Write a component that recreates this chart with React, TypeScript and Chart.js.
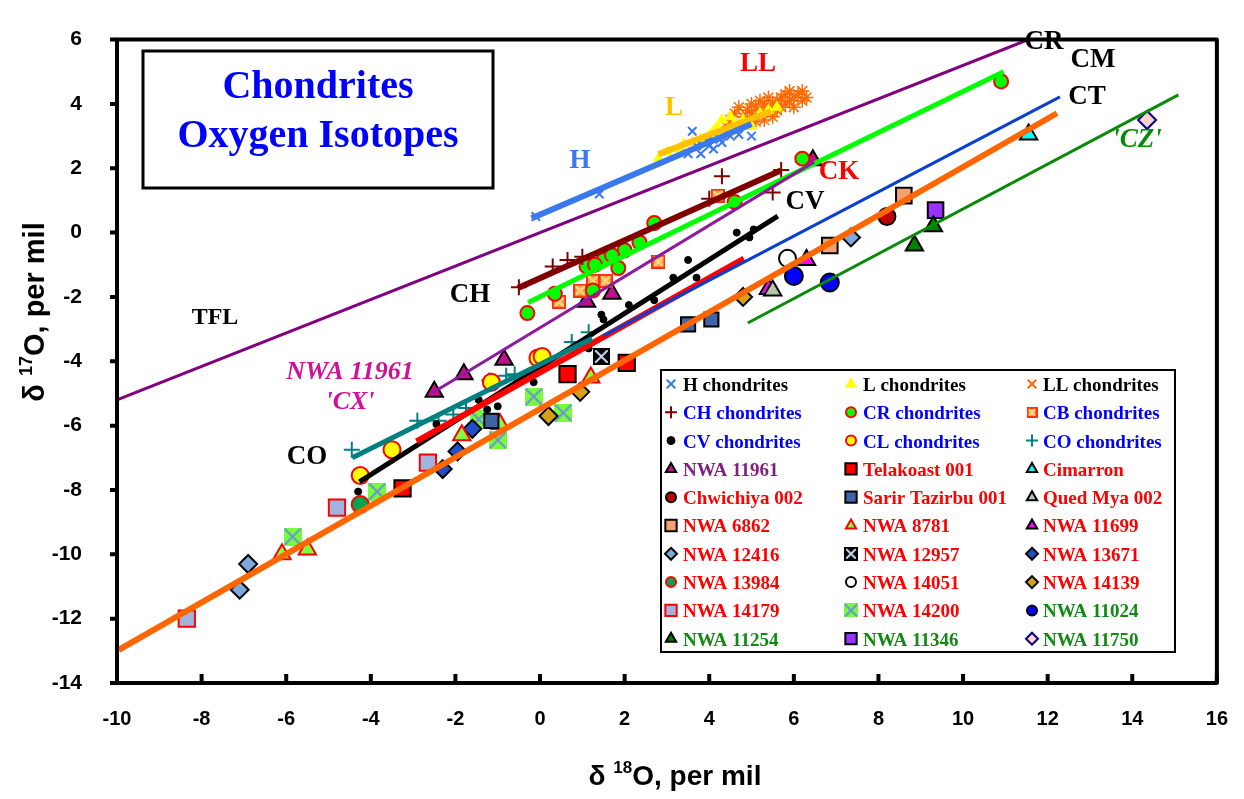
import React, { useEffect, useRef } from 'react';
import { Chart, registerables } from 'chart.js';

Chart.register(...registerables);

type P = [number, number];

const X_MIN = -10;
const X_MAX = 16;
const Y_MIN = -14;
const Y_MAX = 6;
const X_TICKS = [-10, -8, -6, -4, -2, 0, 2, 4, 6, 8, 10, 12, 14, 16];
const Y_TICKS = [-14, -12, -10, -8, -6, -4, -2, 0, 2, 4, 6];

// ---------- point series ----------
const H_CHONDRITES: P[] = [[-0.1, 0.5], [1.4, 1.2], [3.6, 3.15], [3.5, 2.45], [3.8, 2.45], [4.0, 2.7], [4.25, 2.9], [4.5, 3.0], [5.0, 3.0], [3.95, 2.85], [4.1, 2.6], [4.7, 3.05], [3.7, 2.7], [4.3, 2.8]];
const L_CHONDRITES: P[] = [[2.8, 2.3], [3.0, 2.5], [3.3, 2.6], [3.6, 2.8], [3.8, 2.9], [4.0, 3.0], [4.2, 3.3], [4.3, 3.5], [4.5, 3.6], [4.6, 3.4], [4.8, 3.5], [5.0, 3.3], [5.2, 3.7], [5.4, 3.8], [5.6, 3.9], [4.1, 3.15], [3.4, 2.75]];
const LL_CHONDRITES: P[] = [[4.5, 3.5], [4.6, 3.7], [4.7, 3.9], [4.8, 3.6], [4.9, 3.8], [5.0, 4.0], [5.0, 3.7], [5.1, 3.9], [5.2, 4.1], [5.2, 3.8], [5.3, 4.0], [5.4, 3.9], [5.4, 4.2], [5.5, 4.0], [5.5, 3.6], [5.6, 4.1], [5.6, 3.8], [5.7, 4.2], [5.7, 3.9], [5.8, 4.0], [5.8, 4.3], [5.9, 4.1], [5.9, 4.4], [6.0, 4.2], [6.0, 3.9], [6.1, 4.3], [6.2, 4.1], [6.2, 4.4], [5.3, 3.5], [5.1, 3.45], [6.3, 4.2], [4.4, 3.3]];
const CH_CHONDRITES: P[] = [[-0.5, -1.7], [0.3, -1.05], [0.65, -0.85], [1.0, -0.75], [4.0, 1.05], [4.3, 1.75], [5.5, 1.25], [5.7, 1.95]];
const CR_CHONDRITES: P[] = [[-0.3, -2.5], [0.35, -1.9], [1.1, -1.05], [1.5, -0.85], [1.85, -1.1], [2.0, -0.55], [2.35, -0.3], [2.7, 0.3], [4.6, 0.95], [1.25, -1.8], [6.2, 2.3], [10.9, 4.7], [1.3, -1.0], [1.7, -0.7]];
const CB_CHONDRITES: P[] = [[0.45, -2.15], [0.95, -1.8], [1.25, -1.5], [1.55, -1.5], [2.8, -0.9], [4.2, 1.15]];
const CV_CHONDRITES: P[] = [[-4.3, -8.05], [-2.45, -5.95], [-1.45, -5.2], [-1.25, -5.5], [-1.0, -5.4], [-0.15, -4.65], [1.15, -3.6], [1.45, -2.55], [1.5, -2.7], [2.1, -2.25], [2.7, -2.1], [3.15, -1.4], [3.5, -0.85], [3.7, -1.4], [4.65, 0.0], [5.05, 0.1], [4.95, -0.15]];
const CL_CHONDRITES: P[] = [[-4.25, -7.55], [-3.5, -6.75], [-1.15, -4.65], [-0.05, -3.9], [0.05, -3.85]];
const CO_CHONDRITES: P[] = [[-4.45, -6.75], [-2.9, -5.85], [-2.4, -5.85], [-2.05, -5.65], [-1.75, -5.45], [-1.2, -4.6], [-0.8, -4.45], [-0.6, -4.4], [0.75, -3.4], [1.15, -3.1]];
const NWA_11961: P[] = [[-2.5, -4.95], [-1.8, -4.4], [-0.85, -3.95], [1.1, -2.15], [1.7, -1.9], [6.45, 2.25]];
const TELAKOAST_001: P[] = [[-3.25, -7.95], [0.65, -4.4], [2.05, -4.05]];
const CIMARRON: P[] = [[11.55, 3.05]];
const CHWICHIYA_002: P[] = [[8.2, 0.5]];
const SARIR_TAZIRBU_001: P[] = [[3.5, -2.85], [4.05, -2.7], [-1.15, -5.85]];
const QUED_MYA_002: P[] = [[5.5, -1.8]];
const NWA_6862: P[] = [[8.6, 1.15], [6.85, -0.4]];
const NWA_8781: P[] = [[-6.1, -10.0], [-5.5, -9.85], [-1.85, -6.3], [-0.95, -5.95], [1.2, -4.5]];
const NWA_11699: P[] = [[5.4, -1.75], [6.3, -0.85]];
const NWA_12416: P[] = [[-6.9, -10.3], [-7.1, -11.1], [7.35, -0.15]];
const NWA_12957: P[] = [[1.45, -3.85]];
const NWA_13671: P[] = [[-2.3, -7.35], [-1.95, -6.8], [-1.6, -6.1]];
const NWA_13984: P[] = [[-4.25, -8.45]];
const NWA_14051: P[] = [[5.85, -0.8]];
const NWA_14139: P[] = [[0.2, -5.7], [0.95, -4.95], [4.8, -2.0]];
const NWA_14179: P[] = [[-8.35, -12.0], [-4.8, -8.55], [-2.65, -7.15]];
const NWA_14200: P[] = [[-5.85, -9.45], [-3.85, -8.05], [-1.45, -5.8], [-1.0, -6.45], [-0.15, -5.1], [0.55, -5.6]];
const NWA_11024: P[] = [[6.0, -1.35], [6.85, -1.55]];
const NWA_11254: P[] = [[8.85, -0.4], [9.3, 0.2]];
const NWA_11346: P[] = [[9.35, 0.7]];
const NWA_11750: P[] = [[14.35, 3.5]];

// ---------- lines (end points) ----------
const LINE_TFL: P[] = [[-10, -5.2], [11.5, 5.98]];
const LINE_H: P[] = [[-0.2, 0.45], [5.0, 3.38]];
const LINE_L: P[] = [[2.8, 2.44], [5.46, 3.77]];
const LINE_CH: P[] = [[-0.52, -1.72], [5.69, 1.93]];
const LINE_CR: P[] = [[-0.28, -2.17], [10.96, 5.0]];
const LINE_CV: P[] = [[-4.27, -7.75], [5.62, 0.51]];
const LINE_CK: P[] = [[-2.92, -6.49], [4.82, -0.81]];
const LINE_CO: P[] = [[-4.44, -7.0], [1.23, -3.29]];
const LINE_CM: P[] = [[1.5, -3.2], [12.29, 4.22]];
const LINE_CT: P[] = [[-9.96, -12.97], [12.22, 3.71]];
const LINE_CZ: P[] = [[4.91, -2.81], [15.09, 4.28]];
const LINE_CX: P[] = [[-2.54, -4.98], [6.48, 2.2]];

const SERIF = '"Liberation Serif", "Times New Roman", Times, serif';
const SANS = '"Liberation Sans", Arial, Helvetica, sans-serif';

const BLACK = '#000000';
const BLUE = '#0000ff';
const RED = '#ff0000';
const GREEN = '#118a11';
const PURPLE = '#7f1f7f';

type Mk = { style: string; r: number; lr: number; fill: string; stroke: string; lw: number; img?: string };

type Series = { name: string; data: P[]; mk: Mk; text: string };

const SERIES: Series[] = [
  { name: 'H chondrites', data: H_CHONDRITES, text: BLACK, mk: { style: 'crossRot', r: 6, lr: 6, fill: '#3a78f0', stroke: '#3a78f0', lw: 2 } },
  { name: 'L chondrites', data: L_CHONDRITES, text: BLACK, mk: { style: 'triangle', r: 7, lr: 7, fill: '#ffff00', stroke: '#ffff00', lw: 0 } },
  { name: 'LL chondrites', data: LL_CHONDRITES, text: BLACK, mk: { style: 'star', r: 7, lr: 6, fill: '#ff6a00', stroke: '#ff6a00', lw: 1.5 } },
  { name: 'CH chondrites', data: CH_CHONDRITES, text: BLUE, mk: { style: 'cross', r: 8, lr: 6, fill: '#800000', stroke: '#800000', lw: 2 } },
  { name: 'CR chondrites', data: CR_CHONDRITES, text: BLUE, mk: { style: 'circle', r: 7, lr: 5, fill: '#00ff00', stroke: '#ff0000', lw: 2 } },
  { name: 'CB chondrites', data: CB_CHONDRITES, text: BLUE, mk: { style: 'img', r: 7, lr: 6, fill: '', stroke: '', lw: 0, img: 'cb' } },
  { name: 'CV chondrites', data: CV_CHONDRITES, text: BLUE, mk: { style: 'circle', r: 3.5, lr: 4, fill: '#000000', stroke: '#000000', lw: 1 } },
  { name: 'CL chondrites', data: CL_CHONDRITES, text: BLUE, mk: { style: 'circle', r: 8.5, lr: 5, fill: '#ffff00', stroke: '#ff0000', lw: 2 } },
  { name: 'CO chondrites', data: CO_CHONDRITES, text: BLUE, mk: { style: 'cross', r: 8, lr: 6, fill: '#008080', stroke: '#008080', lw: 2 } },
  { name: 'NWA 11961', data: NWA_11961, text: PURPLE, mk: { style: 'triangle', r: 10, lr: 6, fill: '#c0108c', stroke: '#000000', lw: 2 } },
  { name: 'Telakoast 001', data: TELAKOAST_001, text: RED, mk: { style: 'rect', r: 11.5, lr: 8, fill: '#ff0000', stroke: '#000000', lw: 2 } },
  { name: 'Cimarron', data: CIMARRON, text: RED, mk: { style: 'triangle', r: 10, lr: 6, fill: '#00ffff', stroke: '#000000', lw: 2 } },
  { name: 'Chwichiya 002', data: CHWICHIYA_002, text: RED, mk: { style: 'circle', r: 8.5, lr: 5, fill: '#c00000', stroke: '#000000', lw: 2 } },
  { name: 'Sarir Tazirbu 001', data: SARIR_TAZIRBU_001, text: RED, mk: { style: 'rect', r: 10, lr: 8, fill: '#3d65a8', stroke: '#000000', lw: 2 } },
  { name: 'Qued Mya 002', data: QUED_MYA_002, text: RED, mk: { style: 'triangle', r: 10, lr: 6, fill: '#b8c4a8', stroke: '#000000', lw: 2 } },
  { name: 'NWA 6862', data: NWA_6862, text: RED, mk: { style: 'rect', r: 11, lr: 8, fill: '#f4a070', stroke: '#000000', lw: 2 } },
  { name: 'NWA 8781', data: NWA_8781, text: RED, mk: { style: 'triangle', r: 10, lr: 6, fill: '#80ff40', stroke: '#ff0000', lw: 2 } },
  { name: 'NWA 11699', data: NWA_11699, text: RED, mk: { style: 'triangle', r: 10, lr: 6, fill: '#ff00ff', stroke: '#000000', lw: 2 } },
  { name: 'NWA 12416', data: NWA_12416, text: RED, mk: { style: 'rectRot', r: 9, lr: 6, fill: '#7fa8dc', stroke: '#000000', lw: 2 } },
  { name: 'NWA 12957', data: NWA_12957, text: RED, mk: { style: 'img', r: 8, lr: 6, fill: '', stroke: '', lw: 0, img: 'b957' } },
  { name: 'NWA 13671', data: NWA_13671, text: RED, mk: { style: 'rectRot', r: 9, lr: 6, fill: '#1f4fc8', stroke: '#000000', lw: 2 } },
  { name: 'NWA 13984', data: NWA_13984, text: RED, mk: { style: 'circle', r: 8.5, lr: 5, fill: '#00a550', stroke: '#ff0000', lw: 2 } },
  { name: 'NWA 14051', data: NWA_14051, text: RED, mk: { style: 'circle', r: 8.5, lr: 5, fill: '#ffffff', stroke: '#000000', lw: 2 } },
  { name: 'NWA 14139', data: NWA_14139, text: RED, mk: { style: 'rectRot', r: 9, lr: 6, fill: '#d4a017', stroke: '#000000', lw: 2 } },
  { name: 'NWA 14179', data: NWA_14179, text: RED, mk: { style: 'rect', r: 11.5, lr: 8, fill: '#a3b3df', stroke: '#ff0000', lw: 2 } },
  { name: 'NWA 14200', data: NWA_14200, text: RED, mk: { style: 'img', r: 9, lr: 6, fill: '', stroke: '', lw: 0, img: 'g200' } },
  { name: 'NWA 11024', data: NWA_11024, text: GREEN, mk: { style: 'circle', r: 9, lr: 5, fill: '#0000ff', stroke: '#000000', lw: 2 } },
  { name: 'NWA 11254', data: NWA_11254, text: GREEN, mk: { style: 'triangle', r: 10, lr: 6, fill: '#008000', stroke: '#000000', lw: 2 } },
  { name: 'NWA 11346', data: NWA_11346, text: GREEN, mk: { style: 'rect', r: 11, lr: 8, fill: '#9933ff', stroke: '#000000', lw: 2 } },
  { name: 'NWA 11750', data: NWA_11750, text: GREEN, mk: { style: 'rectRot', r: 9, lr: 6, fill: '#ffd0d0', stroke: '#000080', lw: 2 } },
];

const LINES: { name: string; data: P[]; color: string; width: number }[] = [
  { name: 'TFL', data: LINE_TFL, color: '#800080', width: 3 },
  { name: 'CX', data: LINE_CX, color: '#8e1a9e', width: 3 },
  { name: 'CM', data: LINE_CM, color: '#0a3fd0', width: 3 },
  { name: 'CZ', data: LINE_CZ, color: '#0a8a0a', width: 3 },
  { name: 'CT', data: LINE_CT, color: '#ff6600', width: 6 },
  { name: 'CO', data: LINE_CO, color: '#008080', width: 5 },
  { name: 'CK', data: LINE_CK, color: '#ff0000', width: 6 },
  { name: 'CV', data: LINE_CV, color: '#000000', width: 5 },
  { name: 'CR', data: LINE_CR, color: '#00ff00', width: 5 },
  { name: 'CH', data: LINE_CH, color: '#800000', width: 6 },
  { name: 'H', data: LINE_H, color: '#3a78f0', width: 6 },
  { name: 'L', data: LINE_L, color: '#ffc000', width: 6 },
];

// text annotations (canvas pixel positions)
const LABELS = [
  { t: 'TFL', x: 215, y: 318, c: BLACK, s: 24, i: false },
  { t: 'H', x: 580, y: 161, c: '#3a78f0', s: 27, i: false },
  { t: 'L', x: 674, y: 108, c: '#ffc000', s: 27, i: false },
  { t: 'LL', x: 758, y: 64, c: RED, s: 27, i: false },
  { t: 'CR', x: 1044, y: 42, c: BLACK, s: 27, i: false },
  { t: 'CM', x: 1093, y: 60, c: BLACK, s: 27, i: false },
  { t: 'CT', x: 1087, y: 97, c: BLACK, s: 27, i: false },
  { t: "'CZ'", x: 1137, y: 140, c: '#0a8a0a', s: 27, i: true },
  { t: 'CK', x: 839, y: 172, c: RED, s: 27, i: false },
  { t: 'CV', x: 805, y: 202, c: BLACK, s: 27, i: false },
  { t: 'CH', x: 470, y: 295, c: BLACK, s: 27, i: false },
  { t: 'NWA 11961', x: 350, y: 372, c: '#d0109a', s: 26, i: true },
  { t: "'CX'", x: 350, y: 402, c: '#d0109a', s: 26, i: true },
  { t: 'CO', x: 307, y: 457, c: BLACK, s: 27, i: false },
];

function xSquare(side: number, fill: string, xColor: string, border: string | null, xw: number): HTMLCanvasElement {
  const c = document.createElement('canvas');
  c.width = side;
  c.height = side;
  const g = c.getContext('2d')!;
  g.fillStyle = fill;
  g.fillRect(0, 0, side, side);
  g.strokeStyle = xColor;
  g.lineWidth = xw;
  const m = border ? 2 : 1;
  g.beginPath();
  g.moveTo(m, m);
  g.lineTo(side - m, side - m);
  g.moveTo(side - m, m);
  g.lineTo(m, side - m);
  g.stroke();
  if (border) {
    g.strokeStyle = border;
    g.lineWidth = 2;
    g.strokeRect(1, 1, side - 2, side - 2);
  }
  return c;
}

function makeImages(scale: number): Record<string, HTMLCanvasElement> {
  return {
    cb: xSquare(Math.round(14 * scale), '#f7a25c', '#ffe07a', '#ff3010', 2),
    b957: xSquare(Math.round(17 * scale), '#000000', '#c8d8f0', '#000000', 2),
    g200: xSquare(Math.round(18 * scale), '#74ff38', '#6f8fe0', null, 2),
  };
}

function drawMarker(ctx: CanvasRenderingContext2D, m: Mk, x: number, y: number, r: number, imgs: Record<string, HTMLCanvasElement>) {
  ctx.save();
  ctx.fillStyle = m.fill;
  ctx.strokeStyle = m.stroke;
  ctx.lineWidth = m.lw;
  ctx.beginPath();
  const s = r * Math.SQRT1_2;
  switch (m.style) {
    case 'circle':
      ctx.arc(x, y, r, 0, Math.PI * 2);
      ctx.fill();
      if (m.lw) ctx.stroke();
      break;
    case 'triangle':
      ctx.moveTo(x, y - r);
      ctx.lineTo(x + 0.866 * r, y + 0.5 * r);
      ctx.lineTo(x - 0.866 * r, y + 0.5 * r);
      ctx.closePath();
      ctx.fill();
      if (m.lw) ctx.stroke();
      break;
    case 'rect':
      ctx.rect(x - s, y - s, 2 * s, 2 * s);
      ctx.fill();
      if (m.lw) ctx.stroke();
      break;
    case 'rectRot':
      ctx.moveTo(x, y - r);
      ctx.lineTo(x + r, y);
      ctx.lineTo(x, y + r);
      ctx.lineTo(x - r, y);
      ctx.closePath();
      ctx.fill();
      if (m.lw) ctx.stroke();
      break;
    case 'cross':
      ctx.moveTo(x - r, y);
      ctx.lineTo(x + r, y);
      ctx.moveTo(x, y - r);
      ctx.lineTo(x, y + r);
      ctx.stroke();
      break;
    case 'crossRot':
    case 'star':
      ctx.lineWidth = Math.max(m.lw, 2);
      ctx.moveTo(x - s, y - s);
      ctx.lineTo(x + s, y + s);
      ctx.moveTo(x + s, y - s);
      ctx.lineTo(x - s, y + s);
      ctx.stroke();
      break;
    case 'img': {
      const im = imgs[m.img!];
      ctx.drawImage(im, x - im.width / 2, y - im.height / 2);
      break;
    }
  }
  ctx.restore();
}

function drawSupText(ctx: CanvasRenderingContext2D, parts: { t: string; sup?: boolean }[], cx: number, cy: number, rot: number, size: number) {
  ctx.save();
  ctx.translate(cx, cy);
  ctx.rotate(rot);
  const big = `bold ${size}px ${SANS}`;
  const small = `bold ${Math.round(size * 0.62)}px ${SANS}`;
  let total = 0;
  for (const p of parts) {
    ctx.font = p.sup ? small : big;
    total += ctx.measureText(p.t).width;
  }
  let x = -total / 2;
  ctx.fillStyle = '#000';
  ctx.textBaseline = 'alphabetic';
  ctx.textAlign = 'left';
  for (const p of parts) {
    ctx.font = p.sup ? small : big;
    ctx.fillText(p.t, x, p.sup ? size * 0.35 - size * 0.42 : size * 0.35);
    x += ctx.measureText(p.t).width;
  }
  ctx.restore();
}

export default function App() {
  const ref = useRef<HTMLCanvasElement>(null);

  useEffect(() => {
    const canvas = ref.current!;
    const imgs = makeImages(1);
    const legendImgs = makeImages(0.8);

    const pts = (a: P[]) => a.map(([x, y]) => ({ x, y }));

    const lineSets = LINES.map((l) => ({
      label: l.name,
      data: pts(l.data),
      showLine: true,
      borderColor: l.color,
      backgroundColor: l.color,
      borderWidth: l.width,
      borderCapStyle: 'butt' as const,
      pointRadius: 0,
      pointHoverRadius: 0,
      fill: false,
      order: 0,
    }));

    const pointSets = SERIES.map((s) => ({
      label: s.name,
      data: pts(s.data),
      showLine: false,
      pointStyle: s.mk.style === 'img' ? imgs[s.mk.img!] : s.mk.style,
      pointRadius: s.mk.r,
      pointHoverRadius: s.mk.r,
      pointBackgroundColor: s.mk.fill,
      pointBorderColor: s.mk.stroke,
      pointBorderWidth: s.mk.lw,
      borderColor: s.mk.stroke,
      backgroundColor: s.mk.fill,
      order: 1,
    }));

    const overlay = {
      id: 'overlay',
      afterDraw(chart: any) {
        const ctx: CanvasRenderingContext2D = chart.ctx;
        const a = chart.chartArea;
        const xs = chart.scales.x;
        const ys = chart.scales.y;
        ctx.save();

        // frame
        ctx.strokeStyle = '#000';
        ctx.lineWidth = 4;
        ctx.lineJoin = 'round';
        ctx.strokeRect(a.left, a.top, a.right - a.left, a.bottom - a.top);

        // tick marks
        ctx.lineCap = 'butt';
        ctx.beginPath();
        for (const t of X_TICKS) {
          const px = xs.getPixelForValue(t);
          ctx.moveTo(px, a.bottom);
          ctx.lineTo(px, a.bottom - 9);
        }
        for (const t of Y_TICKS) {
          const py = ys.getPixelForValue(t);
          ctx.moveTo(a.left - 7, py);
          ctx.lineTo(a.left, py);
        }
        ctx.stroke();

        // title box
        ctx.fillStyle = '#fff';
        ctx.fillRect(143, 51, 350, 137);
        ctx.lineWidth = 3;
        ctx.lineJoin = 'miter';
        ctx.strokeRect(143, 51, 350, 137);
        ctx.fillStyle = BLUE;
        ctx.font = `bold 40px ${SERIF}`;
        ctx.textAlign = 'center';
        ctx.textBaseline = 'alphabetic';
        ctx.fillText('Chondrites', 318, 98);
        ctx.fillText('Oxygen Isotopes', 318, 147);

        // annotations
        ctx.textBaseline = 'middle';
        for (const l of LABELS) {
          ctx.font = `${l.i ? 'italic ' : ''}bold ${l.s}px ${SERIF}`;
          ctx.fillStyle = l.c;
          ctx.fillText(l.t, l.x, l.y);
        }

        // legend
        const lx = 661, ly = 370, lw = 514, lh = 282;
        ctx.fillStyle = '#fff';
        ctx.fillRect(lx, ly, lw, lh);
        ctx.strokeStyle = '#000';
        ctx.lineWidth = 2;
        ctx.strokeRect(lx, ly, lw, lh);
        const colMarker = [671, 851, 1032];
        const colText = [683, 863, 1043];
        ctx.textAlign = 'left';
        ctx.textBaseline = 'middle';
        SERIES.forEach((s, i) => {
          const row = Math.floor(i / 3);
          const col = i % 3;
          const y = 386 + row * 28.3;
          drawMarker(ctx, { ...s.mk, lw: Math.min(s.mk.lw, 2) }, colMarker[col], y - 2, s.mk.lr, legendImgs);
          ctx.font = `bold 19px ${SERIF}`;
          ctx.fillStyle = s.text;
          ctx.fillText(s.name, colText[col], y);
        });

        // axis titles
        drawSupText(ctx, [{ t: 'δ ' }, { t: '18', sup: true }, { t: 'O, per mil' }], 675, 775, 0, 28);
        drawSupText(ctx, [{ t: 'δ ' }, { t: '17', sup: true }, { t: 'O, per mil' }], 34, 312, -Math.PI / 2, 29);

        ctx.restore();
      },
    };

    const chart = new Chart(canvas, {
      type: 'scatter',
      data: { datasets: [...lineSets, ...pointSets] as any },
      options: {
        animation: false,
        responsive: false,
        devicePixelRatio: 1,
        events: [],
        layout: { padding: { left: 0, top: 20, right: 27, bottom: 0 } },
        plugins: { legend: { display: false }, tooltip: { enabled: false }, title: { display: false } },
        scales: {
          x: {
            type: 'linear',
            min: X_MIN,
            max: X_MAX,
            afterFit: (s: any) => {
              s.height = 116;
            },
            afterBuildTicks: (s: any) => {
              s.ticks = X_TICKS.map((v) => ({ value: v }));
            },
            grid: { display: false },
            border: { display: false },
            ticks: { color: '#000', padding: 16, font: { family: SANS, size: 20, weight: 'bold' }, maxRotation: 0 },
          },
          y: {
            type: 'linear',
            min: Y_MIN,
            max: Y_MAX,
            afterFit: (s: any) => {
              s.width = 117;
            },
            afterBuildTicks: (s: any) => {
              s.ticks = Y_TICKS.map((v) => ({ value: v }));
            },
            grid: { display: false },
            border: { display: false },
            ticks: { color: '#000', padding: 27, font: { family: SANS, size: 21, weight: 'bold' } },
          },
        },
      } as any,
      plugins: [overlay],
    });

    return () => chart.destroy();
  }, []);

  return (
    <canvas
      ref={ref}
      width={1244}
      height={799}
      style={{ position: 'absolute', left: 0, top: 0, width: 1244, height: 799, background: '#fff' }}
    />
  );
}
